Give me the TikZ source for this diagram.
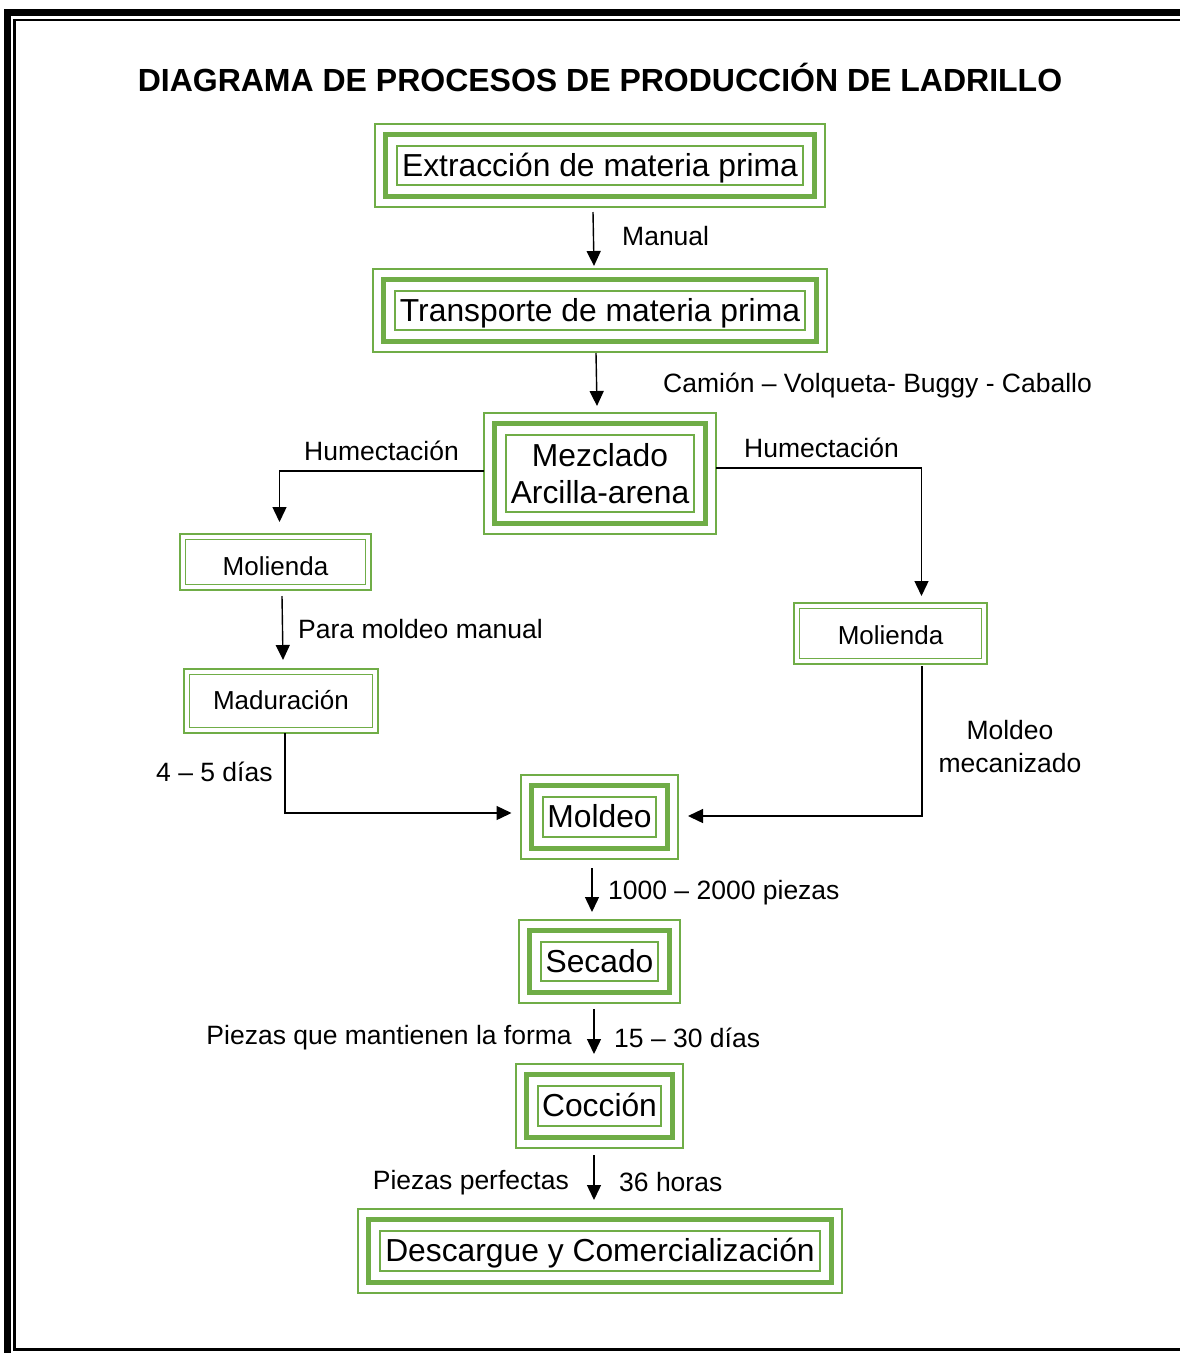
\documentclass[tikz,border=0pt]{standalone}
\usepackage{fontspec}
\setmainfont{Liberation Sans}
\usetikzlibrary{arrows.meta}
\definecolor{boxgreen}{HTML}{70AD47}
\begin{document}
\begin{tikzpicture}[x=1pt,y=-1pt,
  bigbox/.style={draw=boxgreen, line width=2pt, inner sep=0pt, outer sep=0pt, rectangle,
     font=\fontsize{31.8}{37}\selectfont, align=center},
  oneline/.style={text height=22.5pt, text depth=1.5pt},
  smallbox/.style={draw=boxgreen, line width=2.5pt, inner sep=0pt, outer sep=0pt, rectangle,
     font=\fontsize{26}{30}\selectfont, text depth=0pt},
  lbl/.style={inner sep=0pt, font=\fontsize{26.5}{33}\selectfont, text height=19.3pt, text depth=0pt},
  arr/.style={line width=1.4pt, -{Triangle[length=15pt,width=14pt]}}
]
\useasboundingbox (0,0) rectangle (1180,1353);
\clip (0,0) rectangle (1180,1353);
\fill[white] (0,0) rectangle (1180,1353);
% page border
\draw[line width=7pt] (7.5,1370) -- (7.5,12.5) -- (1200,12.5);
\draw[line width=2.2pt] (1200,20) -- (14.5,20) -- (14.5,1349.5) -- (1200,1349.5);

% title
\node[inner sep=0pt, font=\fontsize{32}{36}\selectfont\bfseries, text height=23pt, text depth=0pt] (title) at (600,80)
  {DIAGRAMA DE PROCESOS DE PRODUCCIÓN DE LADRILLO};

% main boxes
\node[bigbox, oneline, minimum width=450pt, minimum height=83pt] (ext) at (600,165.5) {Extracción de materia prima};
\node[bigbox, oneline, minimum width=454pt, minimum height=83pt] (tra) at (600,310.5) {Transporte de materia prima};
\node[bigbox, minimum width=232pt, minimum height=121pt] (mez) at (600,473.5) {Mezclado\\Arcilla-arena};
\node[bigbox, oneline, minimum width=157pt, minimum height=84pt] (mol) at (599.5,817) {Moldeo};
\node[bigbox, oneline, minimum width=161pt, minimum height=83pt] (sec) at (599.5,961.5) {Secado};
\node[bigbox, oneline, minimum width=167pt, minimum height=84pt] (coc) at (599.5,1106) {Cocción};
\node[bigbox, oneline, minimum width=484pt, minimum height=84pt] (des) at (600,1251) {Descargue y Comercialización};

\foreach \n in {ext,tra,mez,mol,sec,coc,des}{
  \draw[boxgreen, line width=5pt] ([xshift=10.5pt,yshift=-10.5pt]\n.north west) rectangle ([xshift=-10.5pt,yshift=10.5pt]\n.south east);
  \draw[boxgreen, line width=1.5pt] ([xshift=22pt,yshift=-22pt]\n.north west) rectangle ([xshift=-22pt,yshift=22pt]\n.south east);
}

% small boxes
\node[smallbox, text height=26pt, minimum width=191pt, minimum height=56pt] (molL) at (275.5,562) {Molienda};
\node[smallbox, text height=17pt, minimum width=194pt, minimum height=64pt] (mad) at (281,701) {Maduración};
\node[smallbox, text height=22pt, minimum width=193pt, minimum height=61pt] (molR) at (890.5,633.5) {Molienda};
\foreach \n in {molL,mad,molR}{
  \draw[boxgreen, line width=1.5pt] ([xshift=5.5pt,yshift=-5.5pt]\n.north west) rectangle ([xshift=-5.5pt,yshift=5.5pt]\n.south east);
}

% connectors
\draw[arr] ([xshift=-7pt,yshift=-5pt]ext.south) -- ([xshift=-6pt,yshift=3pt]tra.north);
\draw[arr] ([xshift=-4pt,yshift=-1pt]tra.south) -- ([xshift=-3pt,yshift=7pt]mez.north);
\draw[arr] ([yshift=2.5pt]mez.west) -| ([xshift=4pt,yshift=12pt]molL.north);
\draw[arr] ([yshift=5.5pt]mez.east) -| ([xshift=31pt,yshift=7pt]molR.north);
\draw[arr] ([xshift=6.5pt,yshift=-6pt]molL.south) -- ([xshift=2pt,yshift=9pt]mad.north);
\draw[arr] ([xshift=4pt]mad.south) |- ([xshift=-9.5pt,yshift=4pt]mol.west);
\draw[arr] ([xshift=31.5pt,yshift=-2pt]molR.south) |- ([xshift=10pt,yshift=1pt]mol.east);
\draw[arr] ([xshift=-7.5pt,yshift=-9pt]mol.south) -- ([xshift=-7.5pt,yshift=8pt]sec.north);
\draw[arr] ([xshift=-5.5pt,yshift=-6pt]sec.south) -- ([xshift=-5.5pt,yshift=10pt]coc.north);
\draw[arr] ([xshift=-5.5pt,yshift=-7pt]coc.south) -- ([xshift=-6pt,yshift=9pt]des.north);

% labels
\node[lbl, anchor=west] (l1) at (622,236) {Manual};
\node[lbl, anchor=west] (l2) at (663,383) {Camión – Volqueta- Buggy - Caballo};
\node[lbl, anchor=west] (l3) at (304,451) {Humectación};
\node[lbl, anchor=west] (l4) at (744,448) {Humectación};
\node[lbl, anchor=west] (l5) at (298,629) {Para moldeo manual};
\node[lbl, anchor=west] (l6) at (156,772) {4 – 5 días};
\node[inner sep=0pt, font=\fontsize{26.5}{33}\selectfont, align=center] (l7) at (1010,747) {Moldeo\\mecanizado};
\node[lbl, anchor=west] (l8) at (608,890) {1000 – 2000 piezas};
\node[lbl, anchor=east] (l9) at (572,1035) {Piezas que mantienen la forma};
\node[lbl, anchor=west] (l10) at (614,1038) {15 – 30 días};
\node[lbl, anchor=east] (l11) at (569,1180) {Piezas perfectas};
\node[lbl, anchor=west] (l12) at (619,1182) {36 horas};
\end{tikzpicture}
\end{document}
